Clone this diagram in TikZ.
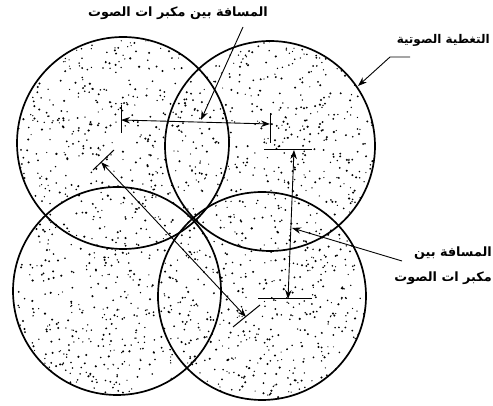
\documentclass[tikz,border=0pt]{standalone}
\usepackage{fontspec}
\usetikzlibrary{arrows.meta}
\TeXXeTstate=1
\newfontfamily\arabicfont[Script=Arabic]{DejaVu Sans}
\tikzset{
  coverage/.style={line width=1.7pt},
  dimarrow/.style={line width=0.9pt,{Stealth[length=9pt,width=6.5pt]}-{Stealth[length=9pt,width=6.5pt]}},
  leader/.style={line width=0.9pt,-{Stealth[length=9pt,width=6.5pt]}},
  tick/.style={line width=1pt},
  lbl/.style={font=\arabicfont\bfseries\fontsize{12.8}{14}\selectfont, inner sep=0pt},
  lblsmall/.style={font=\arabicfont\bfseries\fontsize{12}{14}\selectfont, inner sep=0pt}
}
\begin{document}
\begin{tikzpicture}[x=1pt,y=-1pt]
\useasboundingbox (0,0) rectangle (493,406);
\fill[white] (0,0) rectangle (493,406);
% circle centres
\coordinate (cTL) at (123,143);
\coordinate (cTR) at (270,146);
\coordinate (cBL) at (117,291);
\coordinate (cBR) at (262,296);
% stipple
\begin{scope}
\clip (cTL) circle (106) (cTR) circle (105) (cBL) circle (104) (cBR) circle (104);
\pgfmathsetseed{4711}
\foreach \i in {1,...,1900}{
  \pgfmathsetmacro\px{10+rnd*368}
  \pgfmathsetmacro\py{35+rnd*372}
  \pgfmathsetmacro\pr{0.6+rnd*0.6}
  \fill[black] (\px,\py) circle (\pr);
}
\end{scope}
% circles
\draw[coverage] (cTL) circle (106);
\draw[coverage] (cTR) circle (105);
\draw[coverage] (cBL) circle (104);
\draw[coverage] (cBR) circle (104);
% horizontal dimension
\coordinate (h1a) at (121,105); \coordinate (h1b) at (121,133);
\coordinate (h2a) at (270,113); \coordinate (h2b) at (270,143);
\draw[tick] (h1a) -- (h1b);
\draw[tick] (h2a) -- (h2b);
\coordinate (hL) at (121,120); \coordinate (hR) at (270,124);
\draw[dimarrow] (hL) -- (hR);
% vertical dimension
\coordinate (v1a) at (264,150); \coordinate (v1b) at (312,150);
\coordinate (v2a) at (258,299); \coordinate (v2b) at (312,299);
\draw[tick] (v1a) -- (v1b);
\draw[tick] (v2a) -- (v2b);
\coordinate (vT) at (294,150); \coordinate (vB) at (288,299);
\draw[dimarrow] (vT) -- (vB);
% diagonal dimension
\coordinate (d1a) at (93,170); \coordinate (d1b) at (114,150);
\coordinate (d2a) at (233,327); \coordinate (d2b) at (260,305);
\draw[tick] (d1a) -- (d1b);
\draw[tick] (d2a) -- (d2b);
\coordinate (dA) at (101,162); \coordinate (dB) at (246,317);
\draw[dimarrow] (dA) -- (dB);
% labels
\node[lbl] (ltop) at (178,13) {\beginR المسافة بين مكبر ات الصوت\endR};
\node[lblsmall,anchor=east] (lcov) at (490,40) {\beginR التغطية الصوتية\endR};
\node[lbl,anchor=east] (lmid1) at (492,253) {\beginR المسافة بين\endR};
\node[lbl,anchor=east] (lmid2) at (492,278) {\beginR مكبر ات الصوت\endR};
% leaders
\coordinate (t1) at (243,27); \coordinate (t2) at (201,120);
\draw[leader] (t1) -- (t2);
\coordinate (c0) at (410,57); \coordinate (c1) at (390,57); \coordinate (c2) at (358,86);
\draw[leader] (c0) -- (c1) -- (c2);
\coordinate (m1) at (402,261); \coordinate (m2) at (292,228);
\draw[leader] (m1) -- (m2);
\end{tikzpicture}
\end{document}
